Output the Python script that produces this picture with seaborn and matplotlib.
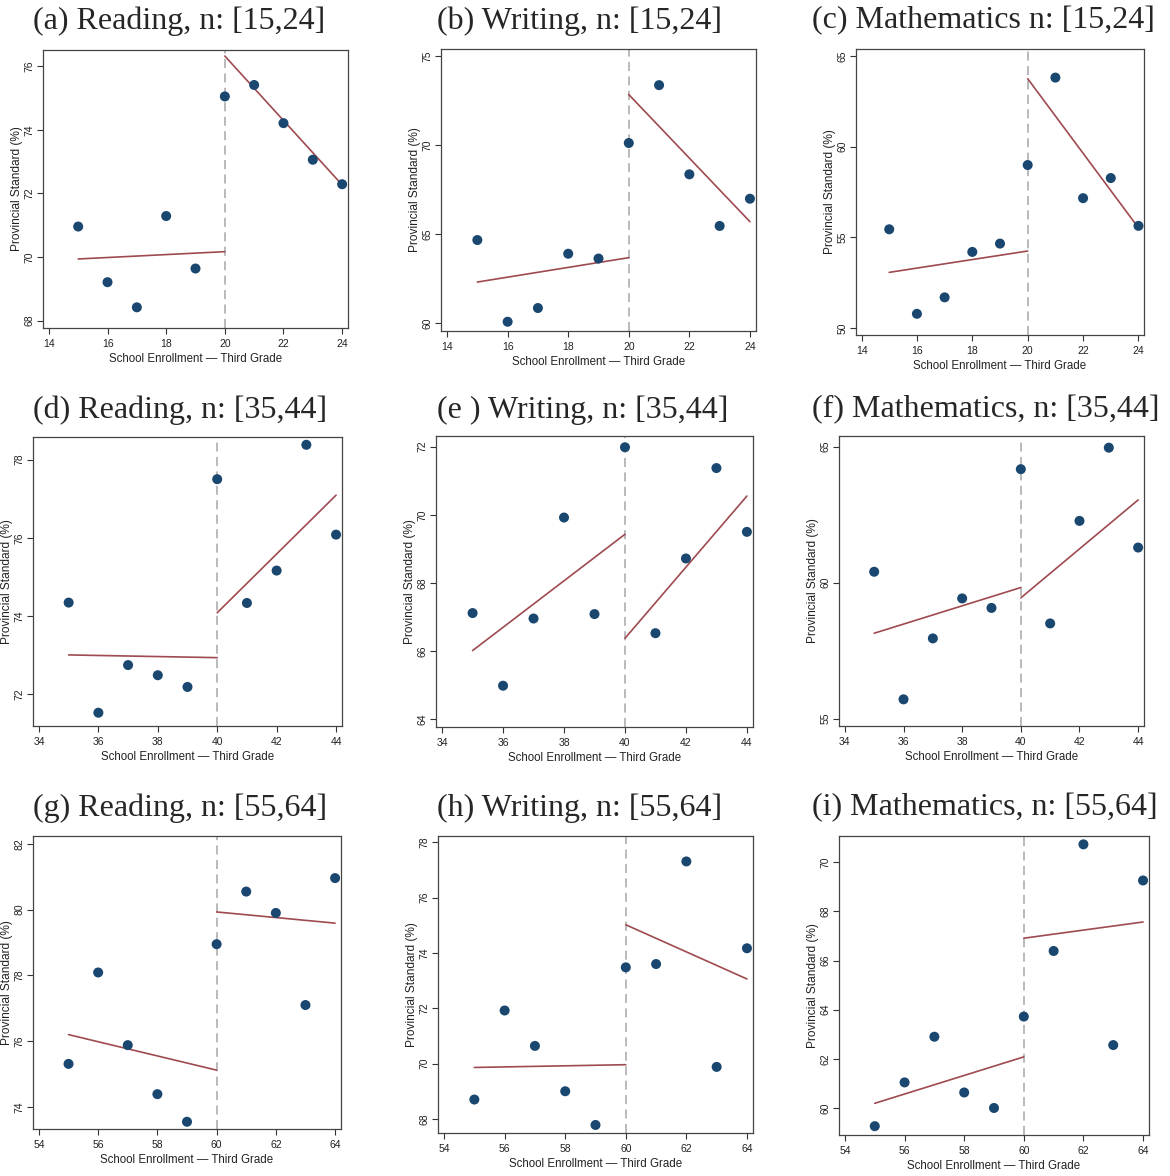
import numpy as np
import pandas as pd
import matplotlib
matplotlib.use("Agg")
import matplotlib.pyplot as plt
import seaborn as sns

# ---- data ----
titles = ["(a) Reading, n: [15,24]", "(b) Writing, n: [15,24]", "(c) Mathematics n: [15,24]",
          "(d) Reading, n: [35,44]", "(e ) Writing, n: [35,44]", "(f) Mathematics, n: [35,44]",
          "(g) Reading, n: [55,64]", "(h) Writing, n: [55,64]", "(i) Mathematics, n: [55,64]"]

enroll_low = list(range(15, 25))
enroll_mid = list(range(35, 45))
enroll_high = list(range(55, 65))
cutoffs = [20, 40, 60]

score_a = [70.96, 69.21, 68.42, 71.29, 69.64, 75.05, 75.41, 74.21, 73.06, 72.29]
score_b = [64.68, 60.09, 60.86, 63.91, 63.64, 70.13, 73.38, 68.37, 65.47, 67.00]
score_c = [55.44, 50.77, 51.68, 54.19, 54.65, 58.99, 63.82, 57.16, 58.27, 55.63]
score_d = [74.34, 71.52, 72.74, 72.48, 72.18, 77.50, 74.33, 75.16, 78.38, 76.08]
score_e = [67.12, 64.99, 66.96, 69.92, 67.09, 71.98, 66.53, 68.72, 71.37, 69.50]
score_f = [60.40, 55.71, 57.95, 59.42, 59.07, 64.17, 58.50, 62.27, 64.96, 61.29]
score_g = [75.31, 78.09, 75.88, 74.39, 73.55, 78.95, 80.55, 79.90, 77.10, 80.96]
score_h = [68.70, 71.92, 70.64, 69.00, 67.78, 73.48, 73.60, 77.31, 69.88, 74.17]
score_i = [59.26, 61.04, 62.90, 60.63, 60.00, 63.72, 66.39, 70.73, 62.56, 69.26]

# fitted line end values: left (start, end at cutoff), right (at cutoff, end)
fit_left = [(69.94, 70.17), (62.32, 63.69), (53.06, 54.24),
            (73.00, 72.93), (66.02, 69.43), (58.14, 59.82),
            (76.20, 75.12), (69.86, 69.96), (60.19, 62.08)]
fit_right = [(76.32, 72.27), (72.85, 65.71), (63.76, 55.52),
             (74.08, 77.09), (66.38, 70.55), (59.44, 63.04),
             (79.93, 79.59), (75.02, 73.06), (66.91, 67.57)]

y_ticks = [[68, 70, 72, 74, 76], [60, 65, 70, 75], [50, 55, 60, 65],
           [72, 74, 76, 78], [64, 66, 68, 70, 72], [55, 60, 65],
           [74, 76, 78, 80, 82], [68, 70, 72, 74, 76, 78], [60, 62, 64, 66, 68, 70]]
y_limits = [(67.77, 76.51), (59.57, 75.41), (49.6, 65.4),
            (71.18, 78.58), (63.78, 72.31), (54.73, 65.39),
            (73.33, 82.24), (67.49, 78.23), (58.9, 71.07)]

scores = [score_a, score_b, score_c, score_d, score_e, score_f, score_g, score_h, score_i]
enrolls = [enroll_low] * 3 + [enroll_mid] * 3 + [enroll_high] * 3

# axes boxes in pixels: left, right, top, bottom
boxes = [(43, 348, 50, 328), (441, 756, 49, 331), (856, 1144, 49, 335),
         (33, 342, 437, 726), (436, 753, 436, 727), (839, 1144, 436, 726),
         (33, 341, 836, 1129), (438, 753, 836, 1133), (839, 1149, 836, 1135)]
title_pos = [(33, 21), (437, 21), (812, 21),
             (33, 410), (437, 410), (812, 410),
             (33, 808), (437, 808), (812, 808)]

W, H = 1170, 1176
navy = "#1a476f"
maroon = "#9e4a50"

sns.set_style("ticks")
plt.rcParams["font.family"] = ["Liberation Sans", "DejaVu Sans"]

fig = plt.figure(figsize=(W / 100, H / 100), dpi=100)

for k in range(9):
    l, r, t, b = boxes[k]
    ax = fig.add_axes([l / W, 1 - b / H, (r - l) / W, (b - t) / H])
    df = pd.DataFrame({"x": enrolls[k], "y": scores[k]})
    c = cutoffs[k // 3]
    x0 = enrolls[k][0]
    x1 = enrolls[k][-1]

    ax.axvline(c, color="#b4b4b4", lw=1.3, ls=(0, (5, 3)), zorder=1)
    sns.lineplot(x=[x0, c], y=list(fit_left[k]), color=maroon, lw=1.2, ax=ax, zorder=2)
    sns.lineplot(x=[c, x1], y=list(fit_right[k]), color=maroon, lw=1.2, ax=ax, zorder=2)
    sns.scatterplot(data=df, x="x", y="y", color=navy, s=52, edgecolor="none", ax=ax, zorder=3)

    ax.set_xlim(x0 - 1.2, x1 + 0.2)
    ax.set_ylim(*y_limits[k])
    ax.set_xticks(np.arange(x0 - 1, x1 + 1, 2))
    ax.set_yticks(y_ticks[k])
    ax.tick_params(axis="x", labelsize=7.5, length=4, width=0.8, pad=4,
                   color="#333333", labelcolor="#222222")
    ax.tick_params(axis="y", labelsize=7.5, length=4, width=0.8, pad=2,
                   color="#333333", labelcolor="#222222")
    for lab in ax.get_yticklabels():
        lab.set_rotation(90)
        lab.set_va("center")
    for sp in ax.spines.values():
        sp.set_visible(True)
        sp.set_color("#444444")
        sp.set_linewidth(0.9)
    ax.set_xlabel("School Enrollment \u2014 Third Grade", fontsize=8.3, color="#222222", labelpad=3)
    ax.set_ylabel("Provincial Standard (%)", fontsize=8.6, color="#222222", labelpad=1)

    tx, ty = title_pos[k]
    fig.text(tx / W, 1 - ty / H, titles[k], fontsize=23, va="center", ha="left",
             family=["Liberation Serif", "DejaVu Serif"])

fig.savefig("out.png", dpi=100, facecolor="white")
